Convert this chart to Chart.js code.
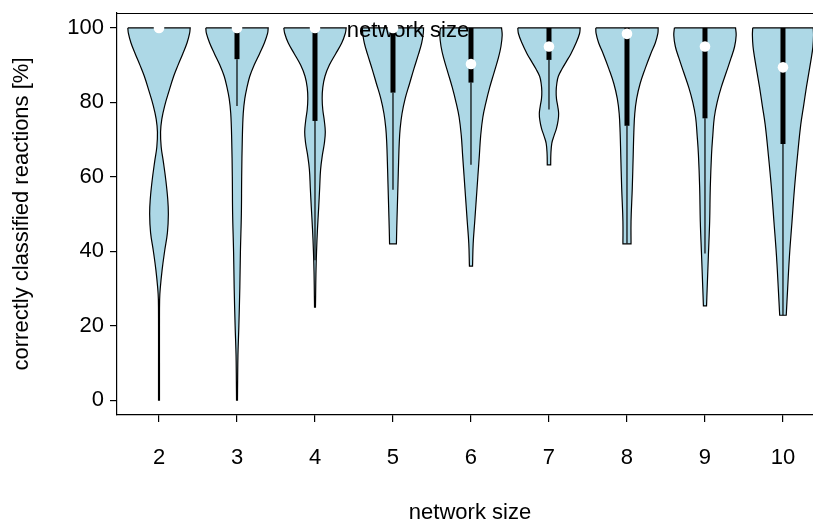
<!DOCTYPE html>
<html>
<head>
<meta charset="utf-8">
<script src="https://cdn.jsdelivr.net/npm/chart.js@4.4.1/dist/chart.umd.min.js"></script>
<style>
  html, body { margin: 0; padding: 0; background: #fff; }
</style>
</head>
<body>
<canvas id="chart" width="813" height="522"></canvas>
<script>
// --- data ---
const NETWORK_SIZES = [2, 3, 4, 5, 6, 7, 8, 9, 10];
const MEDIANS     = [100, 100, 100, 100, 90.3, 95.0, 98.4, 95.0, 89.4];
const Q1          = [100, 91.6, 75.0, 82.6, 85.3, 91.4, 73.7, 75.7, 68.8];
const Q3          = [100, 100, 100, 100, 100, 100, 100, 100, 100];
const WHISKER_LOW = [100, 79.0, 37.6, 56.5, 63.2, 78.1, 42.1, 39.4, 22.8];
const Y_TICKS = [0, 20, 40, 60, 80, 100];

// density profile of each violin: levels (%) and relative width (1 = widest)
const VIOLIN_LEVELS = [
  [100, 98.5, 96, 93, 90, 87, 83, 79, 75.5, 72, 68, 64, 59, 54, 50, 45, 40, 35, 30, 27, 20, 10, 0],
  [100, 98.5, 96, 93, 90, 87, 84, 81, 77, 70, 60, 50, 40, 30, 20, 12, 5, 0],
  [100, 98.5, 96, 93, 90, 87, 84, 81, 78, 75, 72, 69, 66, 62, 57, 52, 46, 40, 34, 28, 25],
  [100, 98.5, 96, 93, 89, 85, 81, 77, 73, 69, 64, 58, 52, 46, 42],
  [100, 98, 95, 92, 88, 84, 80, 76, 71, 66, 60, 54, 48, 42, 36],
  [100, 98.5, 96, 93, 91, 89, 87, 85, 83, 81, 79, 77, 75, 73, 71, 69, 66, 63.2],
  [100, 98.5, 96, 93, 89, 85, 81, 77, 72, 66, 57, 48, 42],
  [100, 98, 95, 92, 88, 84, 80, 76, 71, 66, 57, 48, 39, 30, 25.3],
  [100, 98, 95, 92, 88, 84, 79, 74, 66, 57, 48, 39, 30, 22.8]
];
const VIOLIN_WIDTHS = [
  [1.0, .98, .90, .76, .61, .47, .32, .18, .09, .05, .07, .14, .22, .28, .30, .27, .18, .10, .04, .02, .015, .015, .015],
  [1.0, .98, .88, .72, .55, .41, .32, .25, .20, .17, .15, .14, .11, .09, .06, .03, .02, .015],
  [1.0, .97, .86, .66, .46, .32, .25, .23, .25, .30, .33, .30, .24, .18, .15, .12, .08, .05, .03, .02, .015],
  [.98, .97, .92, .82, .67, .53, .39, .29, .23, .20, .18, .16, .14, .12, .11],
  [.98, 1.0, .96, .88, .74, .60, .48, .38, .31, .27, .22, .17, .12, .07, .05],
  [1.0, .98, .87, .70, .56, .42, .30, .25, .23, .24, .28, .31, .29, .24, .16, .09, .06, .055],
  [1.0, .99, .91, .76, .58, .42, .31, .25, .22, .20, .17, .13, .13],
  [.98, 1.0, .95, .84, .68, .52, .39, .30, .25, .21, .17, .15, .11, .07, .05],
  [.97, .98, .96, .91, .83, .75, .66, .57, .47, .37, .29, .21, .15, .105]
];

// --- look ---
const FONT = "'Liberation Sans', Arial, Helvetica, sans-serif";
const FONT_SIZE = 22;
const HALF_WIDTH = 0.4;          // widest half-violin, in x units
const FILL = '#add8e6';

// --- build datasets ---
function violinOutline(center, levels, widths) {
  const right = levels.map((v, k) => ({ x: center + widths[k] * HALF_WIDTH, y: v }));
  const left = levels.map((v, k) => ({ x: center - widths[k] * HALF_WIDTH, y: v })).reverse();
  const last = right.length - 1;
  // corners repeated so the flat top and bottom stay sharp with tension on
  return [left[last], right[0]].concat(right, [right[last], left[0]], left);
}

const datasets = [];

NETWORK_SIZES.forEach((n, i) => {
  datasets.push({
    data: violinOutline(n, VIOLIN_LEVELS[i], VIOLIN_WIDTHS[i]),
    borderColor: '#000',
    borderWidth: 1.2,
    backgroundColor: FILL,
    fill: 'shape',
    tension: 0.4,
    pointRadius: 0,
    order: 3
  });
});

NETWORK_SIZES.forEach((n, i) => {
  datasets.push({
    data: [{ x: n, y: WHISKER_LOW[i] }, { x: n, y: Q1[i] }],
    borderColor: '#000',
    borderWidth: 1.2,
    pointRadius: 0,
    fill: false,
    order: 2
  });
  datasets.push({
    data: [{ x: n, y: Q1[i] }, { x: n, y: Q3[i] }],
    borderColor: '#000',
    borderWidth: 5,
    borderCapStyle: 'butt',
    pointRadius: 0,
    fill: false,
    order: 1
  });
});

datasets.push({
  data: NETWORK_SIZES.map((n, i) => ({ x: n, y: MEDIANS[i] })),
  showLine: false,
  pointRadius: 5.3,
  pointBackgroundColor: '#fff',
  pointBorderWidth: 0,
  order: 0
});

function drawText(ctx, text, x, y) {
  ctx.save();
  ctx.font = FONT_SIZE + 'px ' + FONT;
  ctx.fillStyle = '#000';
  ctx.textAlign = 'center';
  ctx.textBaseline = 'middle';
  ctx.fillText(text, x, y);
  ctx.restore();
}

// main title sits over the violins, under the boxes and medians;
// x title and the top side of the frame drawn at the end
const overlay = {
  id: 'overlay',
  afterDatasetDraw(chart, args) {
    if (args.index !== 0) return; // last violin outline drawn
    drawText(chart.ctx, 'network size', 408, 31);
  },
  afterDraw(chart) {
    const { ctx, chartArea } = chart;
    drawText(ctx, 'network size', 470, 513);
    ctx.save();
    ctx.strokeStyle = '#000';
    ctx.lineWidth = 1.2;
    ctx.beginPath();
    ctx.moveTo(chartArea.left, chartArea.top + 0.5);
    ctx.lineTo(chartArea.right, chartArea.top + 0.5);
    ctx.stroke();
    ctx.restore();
  }
};

function noPadding(s) {
  s.paddingTop = 0;
  s.paddingBottom = 0;
  s.paddingLeft = 0;
  s.paddingRight = 0;
}

new Chart(document.getElementById('chart'), {
  type: 'line',
  data: { datasets },
  options: {
    responsive: false,
    animation: false,
    layout: { padding: { top: 13, left: 0, right: 0, bottom: 0 }, autoPadding: false },
    plugins: {
      legend: { display: false },
      tooltip: { enabled: false }
    },
    scales: {
      x: {
        type: 'linear',
        min: 1.4615,
        max: 10.385,
        afterFit: s => { s.height = 107; noPadding(s); },
        afterBuildTicks: s => { s.ticks = NETWORK_SIZES.map(v => ({ value: v })); },
        ticks: {
          color: '#000',
          font: { family: FONT, size: FONT_SIZE },
          padding: 23,
          autoSkip: false,
          maxRotation: 0
        },
        grid: { drawOnChartArea: false, drawTicks: true, tickLength: 7, color: '#000', lineWidth: 1.2 },
        border: { display: true, color: '#000', width: 1.2 }
      },
      y: {
        type: 'linear',
        min: -4,
        max: 104,
        afterFit: s => { s.width = 117; noPadding(s); },
        afterBuildTicks: s => { s.ticks = Y_TICKS.map(v => ({ value: v })); },
        ticks: {
          color: '#000',
          font: { family: FONT, size: FONT_SIZE },
          padding: 6
        },
        grid: { drawOnChartArea: false, drawTicks: true, tickLength: 7, color: '#000', lineWidth: 1.2 },
        border: { display: true, color: '#000', width: 1.2 },
        title: {
          display: true,
          text: 'correctly classified reactions [%]',
          color: '#000',
          font: { family: FONT, size: FONT_SIZE, lineHeight: 1 },
          padding: { top: 11, bottom: 0 }
        }
      }
    }
  },
  plugins: [overlay]
});
</script>
</body>
</html>
